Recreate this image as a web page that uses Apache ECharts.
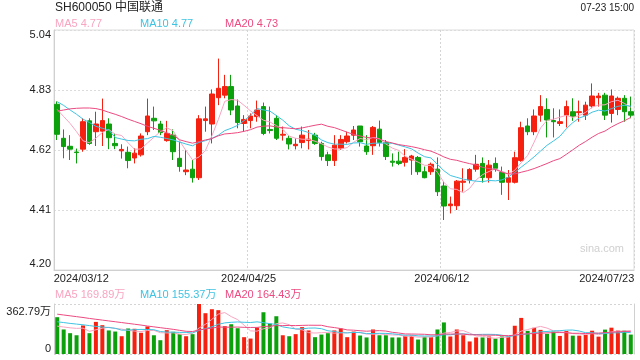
<!DOCTYPE html>
<html><head><meta charset="utf-8">
<script src="https://cdn.jsdelivr.net/npm/echarts@6/dist/echarts.min.js"></script>
<style>html,body{margin:0;padding:0;background:#fff}#c{width:640px;height:360px}</style>
</head><body><div id="c"></div>
<script>
const dates = [
 '2024/03/12','2024/03/13','2024/03/14','2024/03/15','2024/03/18','2024/03/19','2024/03/20','2024/03/21','2024/03/22','2024/03/25','2024/03/26','2024/03/27','2024/03/28','2024/03/29',
 '2024/04/01','2024/04/02','2024/04/03','2024/04/08','2024/04/09','2024/04/10','2024/04/11','2024/04/12','2024/04/15','2024/04/16','2024/04/17','2024/04/18','2024/04/19','2024/04/22','2024/04/23','2024/04/24','2024/04/25','2024/04/26','2024/04/29','2024/04/30',
 '2024/05/06','2024/05/07','2024/05/08','2024/05/09','2024/05/10','2024/05/13','2024/05/14','2024/05/15','2024/05/16','2024/05/17','2024/05/20','2024/05/21','2024/05/22','2024/05/23','2024/05/24','2024/05/27','2024/05/28','2024/05/29','2024/05/30','2024/05/31',
 '2024/06/03','2024/06/04','2024/06/05','2024/06/06','2024/06/07','2024/06/11','2024/06/12','2024/06/13','2024/06/14','2024/06/17','2024/06/18','2024/06/19','2024/06/20','2024/06/21','2024/06/24','2024/06/25','2024/06/26','2024/06/27','2024/06/28',
 '2024/07/01','2024/07/02','2024/07/03','2024/07/04','2024/07/05','2024/07/08','2024/07/09','2024/07/10','2024/07/11','2024/07/12','2024/07/15','2024/07/16','2024/07/17','2024/07/18','2024/07/19','2024/07/22','2024/07/23'
];
const openP = [4.780,4.661,4.633,4.613,4.623,4.722,4.684,4.686,4.711,4.643,4.617,4.612,4.592,4.603,4.684,4.731,4.711,4.653,4.672,4.591,
 4.544,4.553,4.523,4.723,4.711,4.803,4.812,4.842,4.774,4.713,4.723,4.737,4.772,4.692,4.731,4.672,4.661,4.635,4.646,4.653,
 4.672,4.643,4.603,4.583,4.626,4.649,4.672,4.704,4.634,4.635,4.693,4.646,4.581,4.581,4.577,4.585,4.594,4.544,4.544,4.553,
 4.494,4.425,4.425,4.507,4.515,4.553,4.573,4.523,4.573,4.542,4.507,4.507,4.583,4.704,4.684,4.742,4.762,4.723,4.713,4.742,
 4.754,4.751,4.742,4.774,4.803,4.812,4.748,4.762,4.801,4.754];
const closeP = [4.675,4.632,4.623,4.611,4.719,4.643,4.711,4.723,4.663,4.635,4.622,4.583,4.609,4.669,4.739,4.722,4.681,4.678,4.614,4.562,
 4.550,4.523,4.729,4.729,4.816,4.836,4.842,4.760,4.716,4.727,4.739,4.760,4.678,4.688,4.661,4.675,4.641,4.640,4.672,4.658,
 4.643,4.597,4.583,4.637,4.657,4.669,4.690,4.649,4.614,4.699,4.646,4.597,4.577,4.573,4.594,4.599,4.544,4.523,4.570,4.474,
 4.424,4.431,4.511,4.511,4.552,4.570,4.524,4.567,4.556,4.507,4.523,4.593,4.698,4.684,4.739,4.772,4.725,4.719,4.719,4.772,
 4.737,4.754,4.777,4.809,4.809,4.742,4.809,4.801,4.754,4.742];
const lowP = [4.655,4.591,4.585,4.573,4.614,4.638,4.634,4.634,4.623,4.623,4.590,4.556,4.573,4.597,4.672,4.690,4.672,4.649,4.585,4.544,
 4.532,4.506,4.515,4.684,4.643,4.777,4.801,4.742,4.696,4.684,4.696,4.719,4.672,4.678,4.655,4.653,4.622,4.622,4.626,4.622,
 4.638,4.583,4.564,4.564,4.620,4.643,4.655,4.632,4.603,4.603,4.632,4.585,4.562,4.567,4.562,4.533,4.533,4.521,4.533,4.459,
 4.375,4.398,4.410,4.474,4.503,4.544,4.506,4.506,4.544,4.463,4.445,4.503,4.579,4.672,4.672,4.719,4.664,4.664,4.704,4.699,
 4.722,4.719,4.725,4.766,4.772,4.725,4.716,4.742,4.719,4.731];
const highP = [4.790,4.692,4.672,4.625,4.731,4.731,4.754,4.800,4.731,4.678,4.640,4.632,4.626,4.678,4.800,4.772,4.722,4.722,4.692,4.649,
 4.620,4.585,4.742,4.772,4.832,4.940,4.883,4.883,4.797,4.742,4.748,4.793,4.786,4.772,4.742,4.702,4.672,4.661,4.702,4.690,
 4.680,4.649,4.614,4.672,4.672,4.684,4.704,4.704,4.672,4.704,4.723,4.655,4.608,4.614,4.623,4.603,4.599,4.562,4.576,4.594,
 4.509,4.457,4.515,4.556,4.556,4.603,4.594,4.585,4.594,4.562,4.550,4.614,4.719,4.731,4.762,4.812,4.801,4.766,4.762,4.793,
 4.801,4.793,4.789,4.853,4.820,4.820,4.832,4.807,4.812,4.807];
// volume in 万
const volume = [267,178,151,136,207,151,233,209,171,163,129,185,183,154,200,136,100,173,161,146,
 129,144,362.79,296,325,318,202,216,187,122,112,192,303,221,274,136,129,144,195,171,
 122,141,151,171,185,122,163,134,120,178,136,136,120,120,132,134,105,125,122,178,
 229,127,178,136,91,120,120,127,112,127,125,205,262,168,190,175,146,163,131,167,
 133,133,140,169,126,177,191,170,170,141];
// MA values before a full window exists
const ma5Lead = [4.762,4.737,4.713,4.684];
const ma10Lead = [4.789,4.776,4.760,4.745,4.728,4.716,4.703,4.696,4.690];
const ma20Lead = [4.756,4.760,4.764,4.766,4.767,4.767,4.765,4.760,4.752,4.745,4.737,4.728,4.720,4.712,4.703,4.696,4.689,4.680,4.672];
const vma5Lead = [202,196,190,186];
const vma10Lead = [234,228,222,217,212,206,200,196,192];
const vma20Lead = [289,283,277,271,265,258,252,246,240,234,228,222,216,210,203,197,191,185,179];
const priceTicks = [4.20,4.41,4.62,4.83,5.04];
const volTicks = [0,362.79];
const xLabelDates = ['2024/03/12','2024/04/25','2024/06/12','2024/07/23'];
const titleText = 'SH600050 中国联通';
const timeText = '07-23 15:00';
const priceLegend = ['MA5 4.77','MA10 4.77','MA20 4.73'];
const volLegend = ['MA5 169.89万','MA10 155.37万','MA20 164.43万'];

const UP = '#f5200f', DOWN = '#0ca00c';
const C5 = '#f8a5c0', C10 = '#3ec3e2', C20 = '#ec4a80';
const FONT = 'Arial, "Liberation Sans", "Noto Sans CJK SC", sans-serif';

function ma(arr, n, lead) {
  return arr.map((v, i) => {
    if (i < n - 1) return lead[i];
    let s = 0; for (let k = i - n + 1; k <= i; k++) s += arr[k];
    return +(s / n).toFixed(4);
  });
}
const kData = dates.map((d, i) => [openP[i], closeP[i], lowP[i], highP[i]]);
const volData = volume.map((v, i) => ({value: v, itemStyle: {color: closeP[i] >= openP[i] ? UP : DOWN}}));
const labelSet = new Set(xLabelDates);
const midSplit = new Set(xLabelDates.slice(1, -1));
const first = xLabelDates[0], last = xLabelDates[xLabelDates.length - 1];

const chart = echarts.init(document.getElementById('c'), null, {renderer: 'canvas'});
const xCommon = {
  type: 'category', data: dates, boundaryGap: true,
  axisTick: {show: false},
  splitLine: {show: true, interval: (i, v) => midSplit.has(dates[i]), lineStyle: {color: '#d4d4d4', type: [2, 2]}}
};
chart.setOption({
  animation: false,
  textStyle: {fontFamily: FONT},
  grid: [
    {left: 54, right: 6, top: 30, height: 240, show: true, borderColor: '#dcdcdc', borderWidth: 1},
    {left: 54, right: 6, top: 304, height: 50, show: false}
  ],
  xAxis: [
    Object.assign({}, xCommon, {gridIndex: 0,
      axisLine: {show: true, lineStyle: {color: '#d0d0d0'}},
      axisLabel: {show: true, interval: (i, v) => labelSet.has(v), margin: 3, color: '#222', fontSize: 11, fontFamily: FONT,
        formatter: v => v === first ? '{l|' + v + '}' : (v === last ? '{r|' + v + '}' : '{m|' + v + '}'),
        rich: {
          l: {padding: [0, 0, 0, 48], fontSize: 11, color: '#222', fontFamily: FONT},
          r: {padding: [0, 48, 0, 0], fontSize: 11, color: '#222', fontFamily: FONT},
          m: {padding: [0, 4, 0, 0], fontSize: 11, color: '#222', fontFamily: FONT}
        }}}),
    Object.assign({}, xCommon, {gridIndex: 1, axisLine: {show: false}, axisLabel: {show: false}})
  ],
  yAxis: [
    {type: 'value', gridIndex: 0, min: priceTicks[0], max: priceTicks[priceTicks.length - 1], interval: 0.21,
      axisLine: {show: true, lineStyle: {color: '#d0d0d0'}}, axisTick: {show: false},
      splitLine: {show: true, lineStyle: {color: '#dcdcdc', type: [2, 2]}},
      axisLabel: {margin: 3, color: '#222', fontSize: 11, fontFamily: FONT,
        formatter: v => {
          const s = v.toFixed(2);
          if (Math.abs(v - priceTicks[priceTicks.length - 1]) < 1e-6) return '{t|' + s + '}';
          if (Math.abs(v - priceTicks[0]) < 1e-6) return '{b|' + s + '}';
          return s;
        },
        rich: {
          t: {padding: [10, 0, 0, 0], fontSize: 11, color: '#222', fontFamily: FONT},
          b: {padding: [0, 0, 13, 0], fontSize: 11, color: '#222', fontFamily: FONT}
        }}},
    {type: 'value', gridIndex: 1, min: volTicks[0], max: volTicks[1], interval: volTicks[1],
      axisLine: {show: true, lineStyle: {color: '#d0d0d0'}}, axisTick: {show: false},
      splitLine: {show: true, lineStyle: {color: '#d4d4d4', type: [2, 2]}},
      axisLabel: {margin: 3, color: '#222', fontSize: 11, fontFamily: FONT,
        formatter: v => v === volTicks[1] ? '{t|' + v.toFixed(2) + '万}' : '{b|0}',
        rich: {
          t: {padding: [15, 0, 0, 0], fontSize: 11, color: '#222', fontFamily: FONT},
          b: {padding: [0, 0, 10, 0], fontSize: 11, color: '#222', fontFamily: FONT}
        }}},
    {type: 'value', gridIndex: 1, position: 'right', min: volTicks[0], max: volTicks[1],
      axisLine: {show: true, lineStyle: {color: '#d0d0d0'}}, axisTick: {show: false},
      axisLabel: {show: false}, splitLine: {show: false}}
  ],
  series: [
    {type: 'candlestick', xAxisIndex: 0, yAxisIndex: 0, data: kData, barWidth: 5,
      itemStyle: {color: UP, color0: DOWN, borderColor: UP, borderColor0: DOWN, borderWidth: 1}},
    {type: 'line', xAxisIndex: 0, yAxisIndex: 0, data: ma(closeP, 5, ma5Lead), symbol: 'none', lineStyle: {color: C5, width: 1}},
    {type: 'line', xAxisIndex: 0, yAxisIndex: 0, data: ma(closeP, 10, ma10Lead), symbol: 'none', lineStyle: {color: C10, width: 1}},
    {type: 'line', xAxisIndex: 0, yAxisIndex: 0, data: ma(closeP, 20, ma20Lead), symbol: 'none', lineStyle: {color: C20, width: 1}},
    {type: 'bar', xAxisIndex: 1, yAxisIndex: 1, data: volData, barWidth: 4},
    {type: 'line', xAxisIndex: 1, yAxisIndex: 1, data: ma(volume, 5, vma5Lead), symbol: 'none', lineStyle: {color: C5, width: 1}},
    {type: 'line', xAxisIndex: 1, yAxisIndex: 1, data: ma(volume, 10, vma10Lead), symbol: 'none', lineStyle: {color: C10, width: 1}},
    {type: 'line', xAxisIndex: 1, yAxisIndex: 1, data: ma(volume, 20, vma20Lead), symbol: 'none', lineStyle: {color: C20, width: 1}}
  ],
  graphic: [
    {type: 'text', x: 55, y: 8, style: {text: titleText, fill: '#222', font: '12px ' + FONT, verticalAlign: 'middle'}},
    {type: 'text', x: 634, y: 8, style: {text: timeText, fill: '#222', font: '10px ' + FONT, align: 'right', verticalAlign: 'middle'}},
    {type: 'text', x: 55, y: 24, style: {text: priceLegend[0], fill: C5, font: '11px ' + FONT, verticalAlign: 'middle'}},
    {type: 'text', x: 140, y: 24, style: {text: priceLegend[1], fill: C10, font: '11px ' + FONT, verticalAlign: 'middle'}},
    {type: 'text', x: 225, y: 24, style: {text: priceLegend[2], fill: C20, font: '11px ' + FONT, verticalAlign: 'middle'}},
    {type: 'text', x: 55, y: 295, style: {text: volLegend[0], fill: C5, font: '11px ' + FONT, verticalAlign: 'middle'}},
    {type: 'text', x: 140, y: 295, style: {text: volLegend[1], fill: C10, font: '11px ' + FONT, verticalAlign: 'middle'}},
    {type: 'text', x: 225, y: 295, style: {text: volLegend[2], fill: C20, font: '11px ' + FONT, verticalAlign: 'middle'}},
    {type: 'text', x: 602, y: 249, style: {text: 'sina.com', fill: '#d0d0d0', font: '11px ' + FONT, align: 'center', verticalAlign: 'middle'}}
  ]
});
</script>
</body></html>
